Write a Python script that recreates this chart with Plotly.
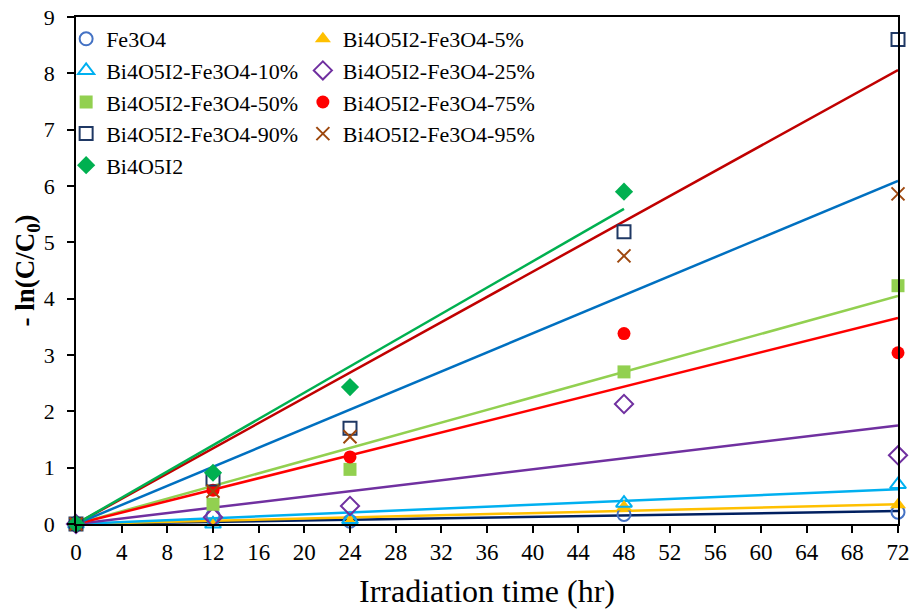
import numpy as np
import plotly.graph_objects as go

# Irradiation time (hr) and -ln(C/C0) for each photocatalyst
hours = [0, 12, 24, 48, 72]
hours_bi = [0, 12, 24, 48]

fe3o4 = [0, 0.15, 0.05, 0.17, 0.21]
bf_5 = [0, 0.02, 0.03, 0.30, 0.34]
bf_10 = [0, 0.00, 0.08, 0.37, 0.70]
bf_25 = [0, 0.12, 0.32, 2.13, 1.22]
bf_50 = [0, 0.35, 0.97, 2.70, 4.23]
bf_75 = [0, 0.60, 1.19, 3.38, 3.04]
bf_90 = [0, 0.80, 1.70, 5.19, 8.60]
bf_95 = [0, 0.58, 1.55, 4.76, 5.86]
bi4o5i2 = [0, 0.91, 2.43, 5.90]

x_ticks = list(range(0, 73, 4))
y_ticks = list(range(0, 10))

FONT = "Liberation Serif, Times New Roman, serif"

# name, x, y, symbol, marker colour, trendline colour, legend
series = [
    ("Fe3O4", hours, fe3o4, "circle-open", "#4472C4", "#002060", "legend"),
    ("Bi4O5I2-Fe3O4-5%", hours, bf_5, "triangle-up", "#FFC000", "#FFC000", "legend2"),
    ("Bi4O5I2-Fe3O4-10%", hours, bf_10, "triangle-up-open", "#00B0F0", "#00B0F0", "legend"),
    ("Bi4O5I2-Fe3O4-25%", hours, bf_25, "diamond-open", "#7030A0", "#7030A0", "legend2"),
    ("Bi4O5I2-Fe3O4-50%", hours, bf_50, "square", "#92D050", "#92D050", "legend"),
    ("Bi4O5I2-Fe3O4-75%", hours, bf_75, "circle", "#FF0000", "#FF0000", "legend2"),
    ("Bi4O5I2-Fe3O4-90%", hours, bf_90, "square-open", "#1F3864", "#C00000", "legend"),
    ("Bi4O5I2-Fe3O4-95%", hours, bf_95, "x-thin-open", "#9E480E", "#0070C0", "legend2"),
    ("Bi4O5I2", hours_bi, bi4o5i2, "diamond", "#00B050", "#00B050", "legend"),
]

fig = go.Figure()

# Linear trendlines forced through the origin (least squares)
for name, xs, ys, sym, mcol, lcol, leg in series:
    xa = np.array(xs, dtype=float)
    ya = np.array(ys, dtype=float)
    k = float((xa * ya).sum() / (xa * xa).sum())
    xl = [0, xa.max()]
    fig.add_trace(go.Scatter(
        x=xl, y=[k * v for v in xl], mode="lines",
        line=dict(color=lcol, width=2.5), showlegend=False,
        hoverinfo="skip", cliponaxis=False,
    ))

# Measured points
for name, xs, ys, sym, mcol, lcol, leg in series:
    is_open = "open" in sym
    size = 13
    if sym.startswith("triangle") or sym.startswith("diamond"):
        size = 14
    fig.add_trace(go.Scatter(
        x=xs, y=ys, mode="markers", name=name, legend=leg,
        marker=dict(symbol=sym, size=size, color=mcol,
                    line=dict(color=mcol, width=2 if is_open else 0)),
        cliponaxis=False,
    ))

legend_style = dict(
    font=dict(family=FONT, size=22, color="black"),
    bgcolor="rgba(0,0,0,0)", borderwidth=0,
    xanchor="left", yanchor="top", tracegroupgap=0,
    itemwidth=30,
)

fig.update_layout(
    width=914, height=613,
    margin=dict(l=76, r=16, t=17, b=89, autoexpand=False),
    paper_bgcolor="white", plot_bgcolor="white",
    font=dict(family=FONT, size=22, color="black"),
    legend=dict(x=-0.012, y=0.998, **legend_style),
    legend2=dict(x=0.276, y=0.998, **legend_style),
    xaxis=dict(
        range=[0, 72], tickvals=x_ticks, ticktext=[str(v) for v in x_ticks],
        showline=True, linecolor="black", linewidth=1.5, mirror=True,
        ticks="outside", ticklen=7, tickwidth=1.5, tickcolor="black",
        showgrid=False, zeroline=False, automargin=False,
        tickfont=dict(family=FONT, size=23),
        title=dict(text="Irradiation time (hr)",
                   font=dict(family=FONT, size=32), standoff=15),
    ),
    yaxis=dict(
        range=[0, 9], tickvals=y_ticks, ticktext=[str(v) for v in y_ticks],
        showline=True, linecolor="black", linewidth=1.5, mirror=True,
        ticks="outside", ticklen=7, tickwidth=1.5, tickcolor="black",
        showgrid=False, zeroline=False, automargin=False,
        ticklabelstandoff=8,
        tickfont=dict(family=FONT, size=22),
        title=dict(text="<b>- ln(C/C<sub>0</sub>)</b>",
                   font=dict(family=FONT, size=27), standoff=0),
    ),
)

fig.write_html("out.html")
